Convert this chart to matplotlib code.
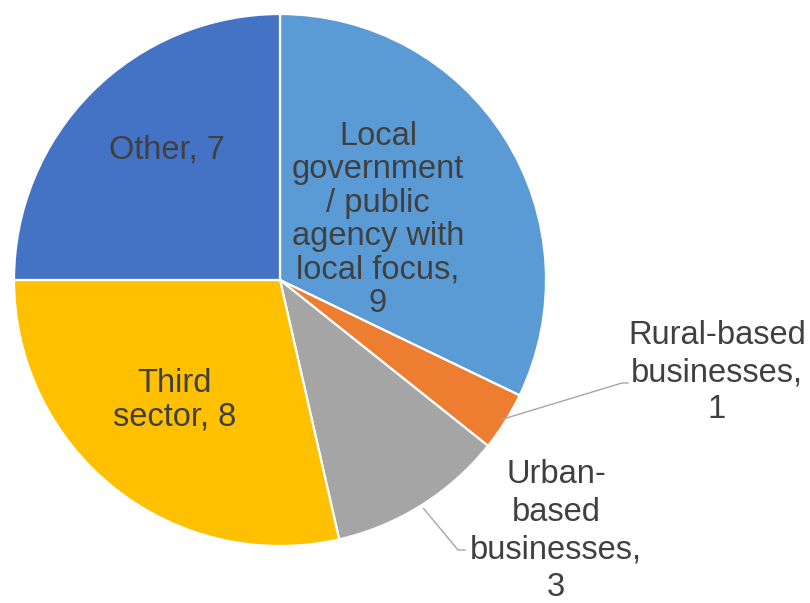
import numpy as np
import matplotlib.pyplot as plt

# organisation types and counts, clockwise from 12 o'clock
categories = ["Local\ngovernment\n/ public\nagency with\nlocal focus",
              "Rural-based\nbusinesses",
              "Urban-\nbased\nbusinesses",
              "Third\nsector",
              "Other"]
counts = [9, 1, 3, 8, 7]
colors = ["#5B9BD5", "#ED7D31", "#A5A5A5", "#FFC000", "#4472C4"]

W, H = 810, 603
CX, CY, R = 280, H - 280, 266
TEXT = "#404040"

plt.rcParams['font.family'] = ['Liberation Sans', 'DejaVu Sans']

fig = plt.figure(figsize=(W / 100, H / 100), dpi=100)
ax = fig.add_axes([0, 0, 1, 1])

wedges, _ = ax.pie(counts, colors=colors, startangle=90, counterclock=False,
                   center=(CX, CY), radius=R, frame=True,
                   wedgeprops=dict(edgecolor="white", linewidth=1.6))
ax.set_xlim(0, W)
ax.set_ylim(0, H)
ax.set_aspect("equal")
ax.axis("off")

# label centres in pixel space (x, y from top); long names break onto a new line
label_pos = [(378, 220), (717, 373), (556, 531), (175, 400), (167, 150)]
new_line = [True, True, True, False, False]
spacing = [1.1, 1.25, 1.27, 1.1, 1.1]

for i, (name, val) in enumerate(zip(categories, counts)):
    sep = ",\n" if new_line[i] else ", "
    x, y = label_pos[i]
    ax.text(x, H - y, f"{name}{sep}{val}", ha="center", va="center",
            fontsize=23.5, color=TEXT, linespacing=spacing[i])

# leader lines for the two small slices
def mid_point(w, r):
    a = np.deg2rad((w.theta1 + w.theta2) / 2)
    return CX + r * np.cos(a), CY + r * np.sin(a)

x0, y0 = mid_point(wedges[1], R - 4)
ax.plot([x0, 622, 628], [y0, H - 383, H - 383], color="#A6A6A6", lw=1)

x0, y0 = mid_point(wedges[2], R + 4)
ax.plot([x0, 458, 465], [y0, H - 550, H - 550], color="#A6A6A6", lw=1)

fig.savefig("out.png", dpi=100)
